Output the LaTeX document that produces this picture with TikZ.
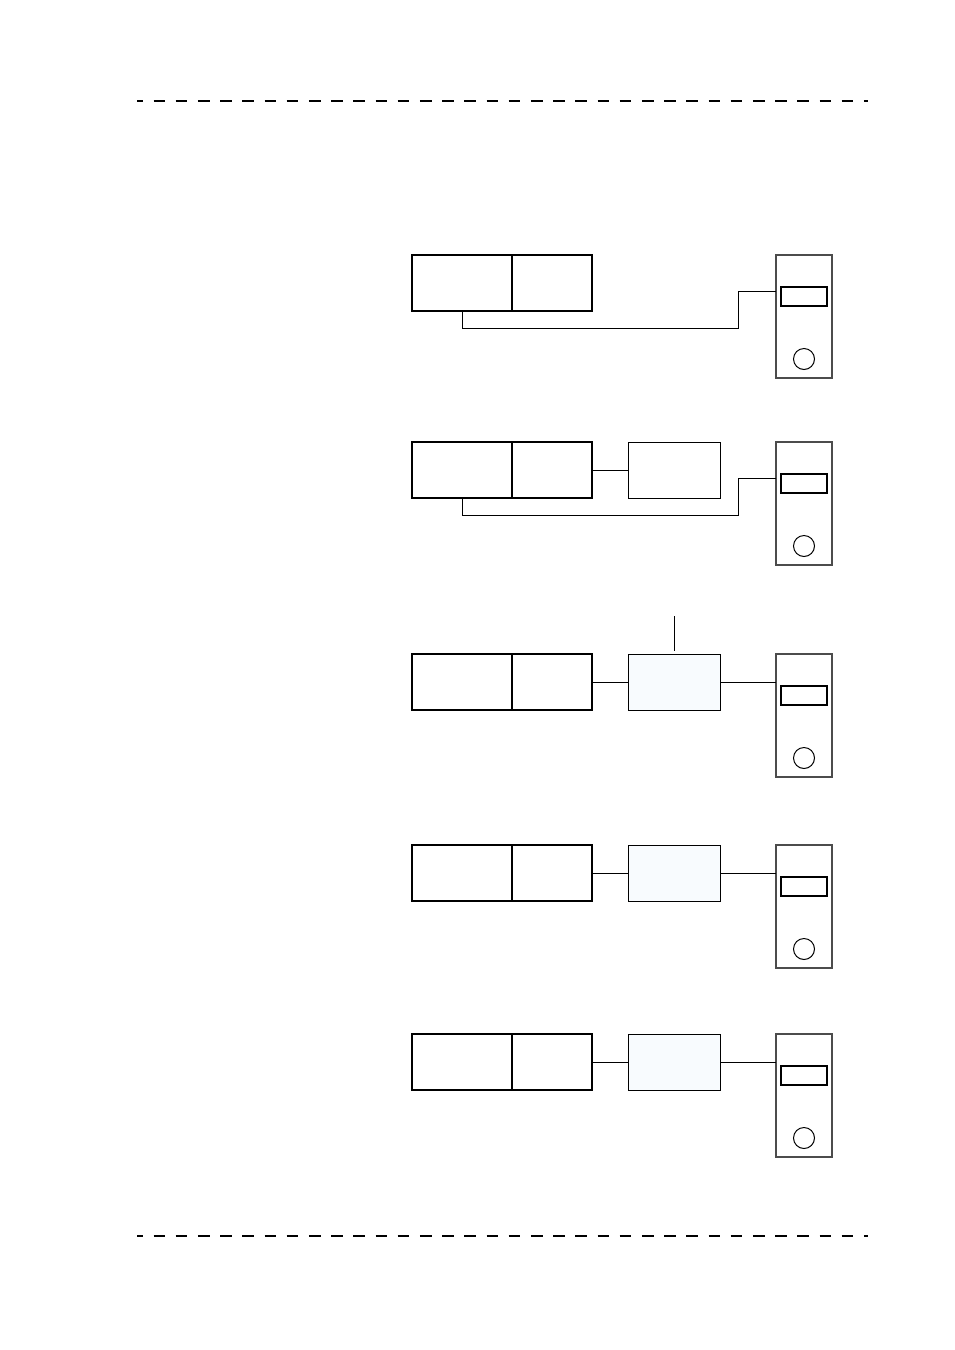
\documentclass[tikz,border=0pt]{standalone}
\usepackage{tikz}
\usetikzlibrary{positioning}
\usepackage{xcolor}
\definecolor{paleblue}{HTML}{F8FBFE}

\begin{document}
\begin{tikzpicture}[x=1pt,y=-1pt,
  hostbox/.style={draw,line width=2pt,minimum width=100,minimum height=56,inner sep=0pt,outer sep=0pt},
  extbox/.style={draw,line width=2pt,minimum width=80,minimum height=56,inner sep=0pt,outer sep=0pt},
  modbox/.style={draw,line width=1pt,minimum width=92,minimum height=56,inner sep=0pt,outer sep=0pt},
  tower/.style={draw=black!70,line width=2pt,minimum width=56,minimum height=123,inner sep=0pt,outer sep=0pt},
  panel/.style={draw,line width=1.6pt,minimum width=46,minimum height=19,inner sep=0pt},
  knob/.style={draw,circle,line width=1pt,minimum size=21,inner sep=0pt},
  wire/.style={line width=1pt},
  rule line/.style={line width=1.4pt,dash pattern=on 11.7pt off 10.5pt,dash phase=5.7pt}]
\useasboundingbox (0,0) rectangle (954,1350);

% dashed rules, top and bottom
\coordinate (topL) at (137,101);
\coordinate (topR) at (868,101);
\coordinate (botL) at (137,1236);
\coordinate (botR) at (868,1236);
\draw[rule line] (topL) -- (topR);
\draw[rule line] (botL) -- (botR);

% row 1
\node[hostbox] (host1) at (462,283) {};
\node[extbox] (ext1) at (552,283) {};
\node[tower] (tower1) at (804,316) {};
\node[panel] (disp1) at (804,296.5) {};
\node[knob] (knob1) at (804,359) {};
\coordinate (jack1) at (776,291);
\draw[wire] (host1.south) -- ++(0,17) -| ([xshift=-38pt]jack1) -- (jack1);

% row 2
\node[hostbox] (host2) at (462,470) {};
\node[extbox] (ext2) at (552,470) {};
\node[modbox] (box2) at (674,470) {};
\node[tower] (tower2) at (804,503) {};
\node[panel] (disp2) at (804,483.5) {};
\node[knob] (knob2) at (804,546) {};
\coordinate (jack2) at (776,478);
\draw[wire] (ext2.east) -- (box2.west);
\draw[wire] (host2.south) -- ++(0,17) -| ([xshift=-38pt]jack2) -- (jack2);

% row 3
\node[hostbox] (host3) at (462,682) {};
\node[extbox] (ext3) at (552,682) {};
\node[modbox,fill=paleblue] (box3) at (674,682) {};
\node[tower] (tower3) at (804,715) {};
\node[panel] (disp3) at (804,695.5) {};
\node[knob] (knob3) at (804,758) {};
\coordinate (ant3) at (674,616);
\draw[wire] (ext3.east) -- (box3.west);
\draw[wire] (box3.east) -- (box3.east -| tower3.west);
\draw[wire] (ant3) -- ([yshift=3pt]box3.north);

% row 4
\node[hostbox] (host4) at (462,873) {};
\node[extbox] (ext4) at (552,873) {};
\node[modbox,fill=paleblue] (box4) at (674,873) {};
\node[tower] (tower4) at (804,906) {};
\node[panel] (disp4) at (804,886.5) {};
\node[knob] (knob4) at (804,949) {};
\draw[wire] (ext4.east) -- (box4.west);
\draw[wire] (box4.east) -- (box4.east -| tower4.west);

% row 5
\node[hostbox] (host5) at (462,1062) {};
\node[extbox] (ext5) at (552,1062) {};
\node[modbox,fill=paleblue] (box5) at (674,1062) {};
\node[tower] (tower5) at (804,1095) {};
\node[panel] (disp5) at (804,1075.5) {};
\node[knob] (knob5) at (804,1138) {};
\draw[wire] (ext5.east) -- (box5.west);
\draw[wire] (box5.east) -- (box5.east -| tower5.west);
\end{tikzpicture}
\end{document}
